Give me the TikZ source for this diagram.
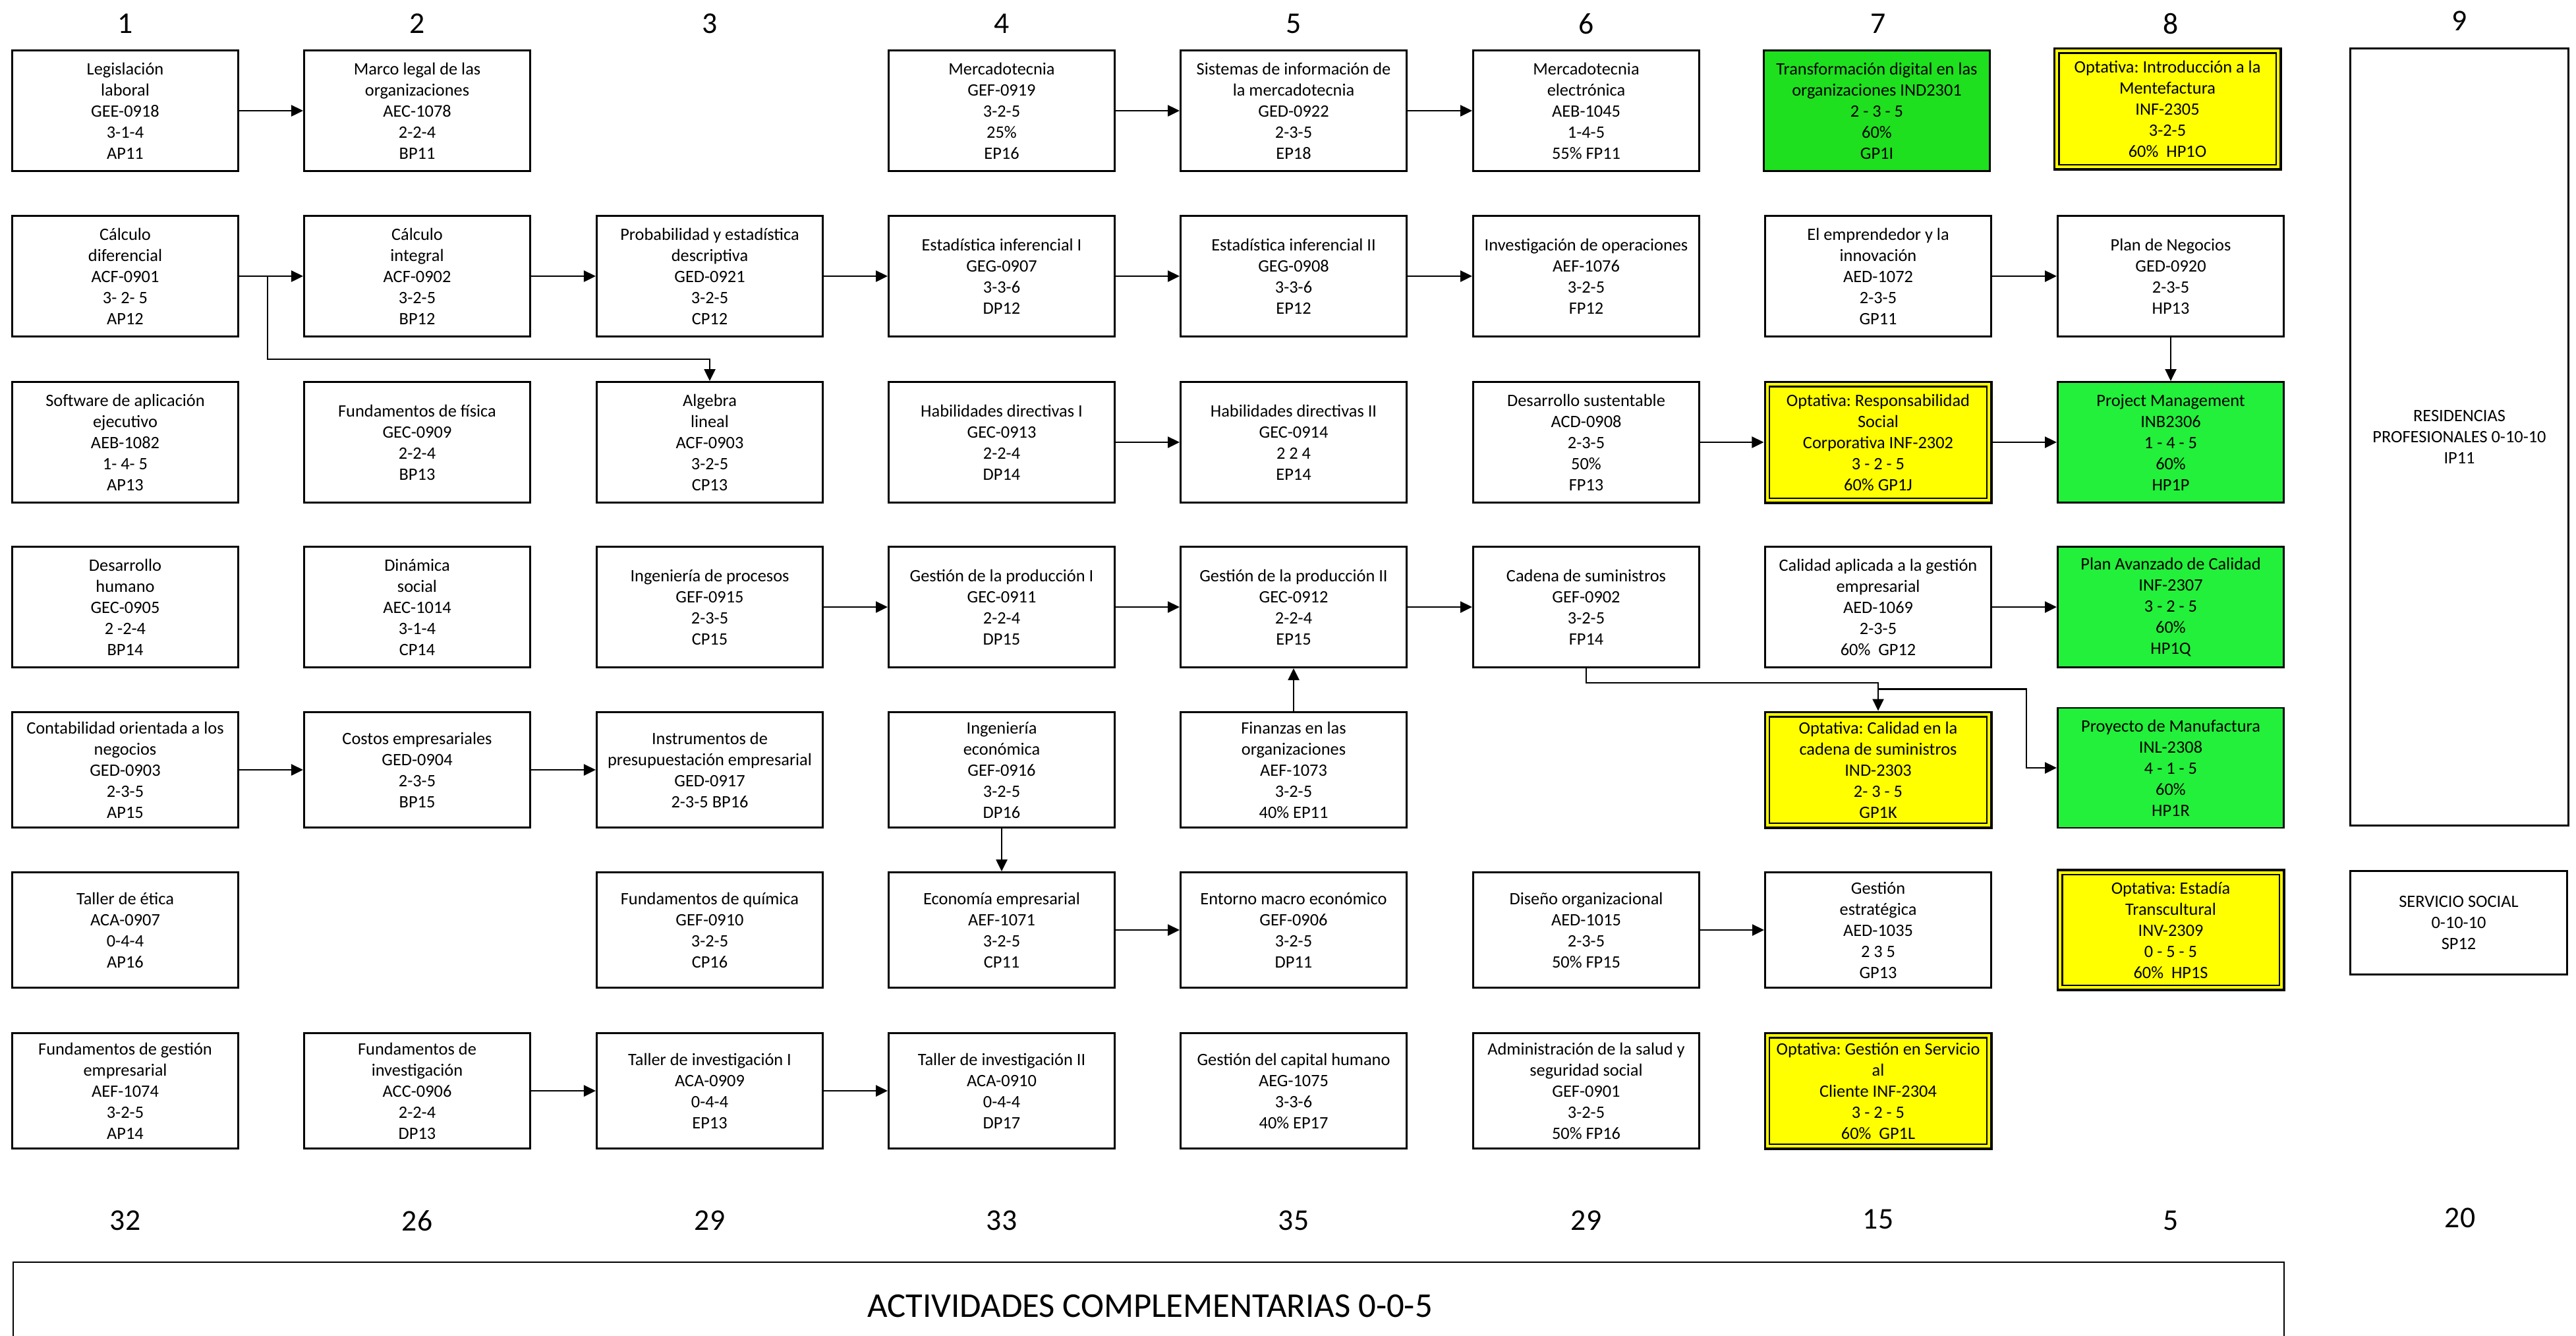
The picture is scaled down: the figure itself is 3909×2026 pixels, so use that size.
\documentclass[tikz,border=0pt]{standalone}
\usepackage{fontspec}
\setmainfont{Carlito}
\usetikzlibrary{arrows.meta,calc}
\definecolor{gA}{RGB}{30,224,30}
\definecolor{gB}{RGB}{34,240,58}
\definecolor{yel}{RGB}{255,255,0}
\frenchspacing
\begin{document}
\begin{tikzpicture}[x=0.01cm,y=-0.01cm,
  box/.style={draw, line width=0.8pt, minimum width=3.43cm, minimum height=1.83cm, align=center, inner sep=1pt, font=\fontsize{7.5}{9.1}\selectfont},
  lo/.style={box, minimum height=1.75cm},
  grnA/.style={fill=gA},
  grnB/.style={fill=gB},
  opt/.style={fill=yel, line width=1.1pt, path picture={\draw[line width=0.6pt] ([shift={(0.07cm,-0.07cm)}]path picture bounding box.north west) rectangle ([shift={(-0.07cm,0.07cm)}]path picture bounding box.south east);}},
  arr/.style={-{Triangle[length=0.18cm,width=0.17cm]}, line width=0.7pt},
  hdr/.style={font=\fontsize{13}{15}\selectfont, inner sep=0pt}]
\useasboundingbox (0,0) rectangle (3909,2026);

% header numbers
\node[hdr] (h1) at (190,36) {1};
\node[hdr] (h2) at (633,36) {2};
\node[hdr] (h3) at (1077,36) {3};
\node[hdr] (h4) at (1520,36) {4};
\node[hdr] (h5) at (1963,36) {5};
\node[hdr] (h6) at (2407,36) {6};
\node[hdr] (h7) at (2850,36) {7};
\node[hdr] (h8) at (3294,36) {8};
\node[hdr] (h9) at (3732,32) {9};

% row 1
\node[box] (c1r1) at (190,168) {Legislación\\laboral\\GEE-0918\\3-1-4\\AP11};
\node[box] (c2r1) at (633,168) {Marco legal de las\\organizaciones\\AEC-1078\\2-2-4\\BP11};
\node[box] (c4r1) at (1520,168) {Mercadotecnia\\GEF-0919\\3-2-5\\25\%\\EP16};
\node[box] (c5r1) at (1963,168) {Sistemas de información de\\la mercadotecnia\\GED-0922\\2-3-5\\EP18};
\node[box] (c6r1) at (2407,168) {Mercadotecnia\\electrónica\\AEB-1045\\1-4-5\\55\% FP11};
\node[box,grnA] (c7r1) at (2848,168) {Transformación digital en las\\organizaciones IND2301\\2 - 3 - 5\\60\%\\GP1I};
\node[box,opt] (c8r1) at (3289,165) {Optativa: Introducción a la\\Mentefactura\\INF-2305\\3-2-5\\60\%~~HP1O};

% row 2
\node[box] (c1r2) at (190,419) {Cálculo\\diferencial\\ACF-0901\\3- 2- 5\\AP12};
\node[box] (c2r2) at (633,419) {Cálculo\\integral\\ACF-0902\\3-2-5\\BP12};
\node[box] (c3r2) at (1077,419) {Probabilidad y estadística\\descriptiva\\GED-0921\\3-2-5\\CP12};
\node[box] (c4r2) at (1520,419) {Estadística inferencial I\\GEG-0907\\3-3-6\\DP12};
\node[box] (c5r2) at (1963,419) {Estadística inferencial II\\GEG-0908\\3-3-6\\EP12};
\node[box] (c6r2) at (2407,419) {Investigación de operaciones\\AEF-1076\\3-2-5\\FP12};
\node[box] (c7r2) at (2850,419) {El emprendedor y la\\innovación\\AED-1072\\2-3-5\\GP11};
\node[box] (c8r2) at (3294,419) {Plan de Negocios\\GED-0920\\2-3-5\\HP13};

% row 3
\node[box] (c1r3) at (190,671) {Software de aplicación\\ejecutivo\\AEB-1082\\1- 4- 5\\AP13};
\node[box] (c2r3) at (633,671) {Fundamentos de física\\GEC-0909\\2-2-4\\BP13};
\node[box] (c3r3) at (1077,671) {Algebra\\lineal\\ACF-0903\\3-2-5\\CP13};
\node[box] (c4r3) at (1520,671) {Habilidades directivas I\\GEC-0913\\2-2-4\\DP14};
\node[box] (c5r3) at (1963,671) {Habilidades directivas II\\GEC-0914\\2 2 4\\EP14};
\node[box] (c6r3) at (2407,671) {Desarrollo sustentable\\ACD-0908\\2-3-5\\50\%\\FP13};
\node[box,opt] (c7r3) at (2850,671) {Optativa: Responsabilidad\\Social\\Corporativa INF-2302\\3 - 2 - 5\\60\% GP1J};
\node[box,grnB] (c8r3) at (3294,671) {Project Management\\INB2306\\1 - 4 - 5\\60\%\\HP1P};

% row 4
\node[box] (c1r4) at (190,921) {Desarrollo\\humano\\GEC-0905\\2 -2-4\\BP14};
\node[box] (c2r4) at (633,921) {Dinámica\\social\\AEC-1014\\3-1-4\\CP14};
\node[box] (c3r4) at (1077,921) {Ingeniería de procesos\\GEF-0915\\2-3-5\\CP15};
\node[box] (c4r4) at (1520,921) {Gestión de la producción I\\GEC-0911\\2-2-4\\DP15};
\node[box] (c5r4) at (1963,921) {Gestión de la producción II\\GEC-0912\\2-2-4\\EP15};
\node[box] (c6r4) at (2407,921) {Cadena de suministros\\GEF-0902\\3-2-5\\FP14};
\node[box] (c7r4) at (2850,921) {Calidad aplicada a la gestión\\empresarial\\AED-1069\\2-3-5\\60\%~~GP12};
\node[box,grnB] (c8r4) at (3294,921) {Plan Avanzado de Calidad\\INF-2307\\3 - 2 - 5\\60\%\\HP1Q};

% row 5
\node[lo] (c1r5) at (190,1168) {Contabilidad orientada a los\\negocios\\GED-0903\\2-3-5\\AP15};
\node[lo] (c2r5) at (633,1168) {Costos empresariales\\GED-0904\\2-3-5\\BP15};
\node[lo] (c3r5) at (1077,1168) {Instrumentos de\\presupuestación empresarial\\GED-0917\\2-3-5 BP16};
\node[lo] (c4r5) at (1520,1168) {Ingeniería\\económica\\GEF-0916\\3-2-5\\DP16};
\node[lo] (c5r5) at (1963,1168) {Finanzas en las\\organizaciones\\AEF-1073\\3-2-5\\40\% EP11};
\node[lo,opt] (c7r5) at (2850,1168) {Optativa: Calidad en la\\cadena de suministros\\IND-2303\\2- 3 - 5\\GP1K};
\node[lo,grnB,minimum height=1.82cm] (c8r5) at (3294,1165) {Proyecto de Manufactura\\INL-2308\\4 - 1 - 5\\60\%\\HP1R};

% row 6
\node[lo] (c1r6) at (190,1411) {Taller de ética\\ACA-0907\\0-4-4\\AP16};
\node[lo] (c3r6) at (1077,1411) {Fundamentos de química\\GEF-0910\\3-2-5\\CP16};
\node[lo] (c4r6) at (1520,1411) {Economía empresarial\\AEF-1071\\3-2-5\\CP11};
\node[lo] (c5r6) at (1963,1411) {Entorno macro económico\\GEF-0906\\3-2-5\\DP11};
\node[lo] (c6r6) at (2407,1411) {Diseño organizacional\\AED-1015\\2-3-5\\50\% FP15};
\node[lo] (c7r6) at (2850,1411) {Gestión\\estratégica\\AED-1035\\2 3 5\\GP13};
\node[lo,opt,minimum height=1.82cm] (c8r6) at (3294,1411) {Optativa: Estadía\\Transcultural\\INV-2309\\0 - 5 - 5\\60\%~~HP1S};

% row 7
\node[lo] (c1r7) at (190,1655) {Fundamentos de gestión\\empresarial\\AEF-1074\\3-2-5\\AP14};
\node[lo] (c2r7) at (633,1655) {Fundamentos de\\investigación\\ACC-0906\\2-2-4\\DP13};
\node[lo] (c3r7) at (1077,1655) {Taller de investigación I\\ACA-0909\\0-4-4\\EP13};
\node[lo] (c4r7) at (1520,1655) {Taller de investigación II\\ACA-0910\\0-4-4\\DP17};
\node[lo] (c5r7) at (1963,1655) {Gestión del capital humano\\AEG-1075\\3-3-6\\40\% EP17};
\node[lo] (c6r7) at (2407,1655) {Administración de la salud y\\seguridad social\\GEF-0901\\3-2-5\\50\% FP16};
\node[lo,opt] (c7r7) at (2850,1655) {Optativa: Gestión en Servicio\\al\\Cliente INF-2304\\3 - 2 - 5\\60\%~~GP1L};

% column 9
\node[box, minimum width=3.31cm, minimum height=11.78cm] (res) at (3732,663) {RESIDENCIAS\\PROFESIONALES 0-10-10\\IP11};
\node[box, minimum width=3.29cm, minimum height=1.57cm] (ss) at (3731,1400) {SERVICIO SOCIAL\\0-10-10\\SP12};

% bottom numbers
\node[hdr] (t1) at (190,1852) {32};
\node[hdr] (t2) at (633,1852) {26};
\node[hdr] (t3) at (1077,1852) {29};
\node[hdr] (t4) at (1520,1852) {33};
\node[hdr] (t5) at (1963,1852) {35};
\node[hdr] (t6) at (2407,1852) {29};
\node[hdr] (t7) at (2850,1850) {15};
\node[hdr] (t8) at (3294,1852) {5};
\node[hdr] (t9) at (3733,1848) {20};

% actividades complementarias
\draw[line width=0.8pt] (20,2060) -- (20,1915) -- (3466,1915) -- (3466,2060);
\node[font=\fontsize{15}{18}\selectfont, inner sep=0pt] (act) at (1745,1982) {ACTIVIDADES COMPLEMENTARIAS 0-0-5};

% connectors
\draw[arr] (c1r1) -- (c2r1);
\draw[arr] (c1r2) -- (c2r2);
\coordinate (br1) at ($(c1r2.east)+(43,0)$);
\draw[arr] (br1) -- ++(0,126) -| (c3r3.north);
\draw[arr] (c2r2) -- (c3r2);
\draw[arr] (c3r2) -- (c4r2);
\draw[arr] (c4r2) -- (c5r2);
\draw[arr] (c5r2) -- (c6r2);
\draw[arr] (c4r1) -- (c5r1);
\draw[arr] (c5r1) -- (c6r1);
\draw[arr] (c4r3) -- (c5r3);
\draw[arr] (c6r3) -- (c7r3);
\draw[arr] (c7r3) -- (c8r3);
\draw[arr] (c7r2) -- (c8r2);
\draw[arr] (c8r2) -- (c8r3);
\draw[arr] (c3r4) -- (c4r4);
\draw[arr] (c4r4) -- (c5r4);
\draw[arr] (c5r4) -- (c6r4);
\draw[arr] (c7r4) -- (c8r4);
\draw[arr] (c6r4.south) -- ++(0,22) -| (c7r5.north);
\coordinate (br2) at ($(c7r5.north)+(0,-33)$);
\draw[arr] (br2) -- ++(225,0) |- (c8r5.west);
\draw[arr] (c4r5) -- (c4r6);
\draw[arr] (c5r5) -- (c5r4);
\draw[arr] (c1r5) -- (c2r5);
\draw[arr] (c2r5) -- (c3r5);
\draw[arr] (c4r6) -- (c5r6);
\draw[arr] (c6r6) -- (c7r6);
\draw[arr] (c2r7) -- (c3r7);
\draw[arr] (c3r7) -- (c4r7);
\end{tikzpicture}
\end{document}
